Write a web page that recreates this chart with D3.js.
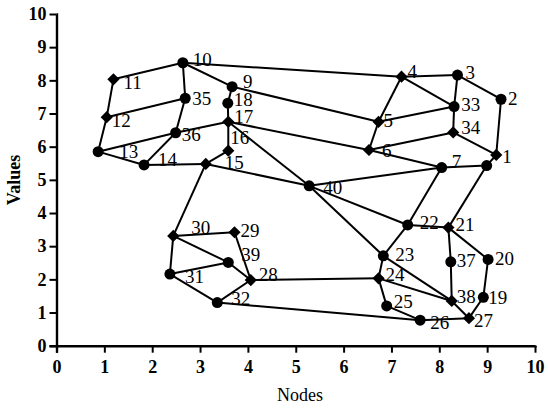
<!DOCTYPE html>
<html>
<head>
<meta charset="utf-8">
<script src="https://cdn.jsdelivr.net/npm/d3@7"></script>
<style>
	body { margin: 0; background: white; }
	svg { font-family: "Liberation Serif", "Times New Roman", serif; }
</style>
</head>
<body>
<div id="chart"></div>
<script>
// node coordinates, indexed by node number - 1
const nodeX = [9.19, 9.29, 8.38, 7.21, 6.73, 6.53, 8.05, 8.99, 3.67, 2.64,
	1.19, 1.05, 0.87, 1.83, 3.12, 3.59, 3.59, 3.58, 8.92, 9.02,
	8.19, 7.34, 6.83, 6.73, 6.90, 7.60, 8.62, 4.06, 3.72, 2.44,
	2.37, 3.36, 8.31, 8.29, 2.69, 2.49, 8.24, 8.26, 3.59, 5.28];
const nodeY = [5.75, 7.43, 8.16, 8.11, 6.75, 5.90, 5.37, 5.43, 7.81, 8.53,
	8.03, 6.89, 5.85, 5.45, 5.48, 5.88, 6.75, 7.31, 1.46, 2.60,
	3.56, 3.64, 2.71, 2.03, 1.20, 0.77, 0.83, 1.98, 3.42, 3.31,
	2.16, 1.30, 7.21, 6.43, 7.46, 6.42, 2.53, 1.35, 2.51, 4.82];
const diamondNodes = [1, 4, 5, 6, 11, 12, 15, 16, 17, 21, 24, 27, 28, 29, 30, 34, 38];
const hiddenLabels = [8];
const edges = [
	[10, 11], [10, 35], [10, 9], [10, 4], [4, 3], [9, 18], [18, 17], [17, 16], [16, 15],
	[9, 5], [17, 6], [17, 40], [15, 40], [15, 30], [15, 14], [14, 13], [14, 36], [13, 12],
	[12, 11], [12, 35], [13, 36], [36, 17], [36, 35],
	[4, 5], [4, 33], [3, 33], [3, 2], [2, 1], [33, 34], [33, 5], [34, 6], [34, 1], [5, 6],
	[6, 7], [7, 40], [7, 8], [8, 1], [8, 21], [7, 22],
	[40, 22], [40, 23], [22, 21], [22, 23], [21, 37], [21, 20], [20, 19], [19, 27],
	[23, 38], [38, 27], [37, 38], [24, 38], [24, 28], [23, 24], [24, 25], [25, 26],
	[26, 27], [26, 32],
	[30, 29], [30, 31], [30, 39], [39, 28], [29, 28], [28, 32], [31, 32], [31, 39]];
const ticks = [0, 1, 2, 3, 4, 5, 6, 7, 8, 9, 10];

// label nudges in pixels (dx, dy from node centre)
const nudge = {1: [6, 2], 2: [7, 0], 3: [8, -2], 4: [6, -5], 5: [5, -1], 6: [13, 1], 7: [10, -6],
	9: [11, -5], 10: [10, -3], 11: [10, 4], 12: [5, 4], 13: [21, 0], 14: [14, -5], 15: [19, -1],
	16: [2, -13], 17: [6, -5], 18: [6, -3], 19: [5, 1], 20: [7, 0], 21: [7, -3], 22: [12, -2],
	23: [12, -1], 24: [7, -3], 25: [7, -4], 26: [10, 3], 27: [5, 3], 28: [8, -5], 29: [6, -1],
	30: [18, -8], 31: [15, 3], 32: [14, -4], 33: [7, -2], 34: [8, -4], 35: [7, 1], 36: [6, 2],
	37: [6, -1], 38: [5, -4], 39: [13, -7], 40: [14, 2]};

const width = 548, height = 408;
const svg = d3.select("#chart").append("svg")
	.attr("width", width)
	.attr("height", height);

const x = d3.scaleLinear([0, 10], [56.5, 535]);
const y = d3.scaleLinear([0, 10], [345.7, 14]);

const nodes = nodeX.map((v, i) => ({id: i + 1, x: v, y: nodeY[i]}));
const byId = new Map(nodes.map(n => [n.id, n]));

// axes
svg.append("g")
	.attr("transform", `translate(0,${y(0)})`)
	.call(d3.axisBottom(x).tickValues(ticks).tickSize(7).tickPadding(8).tickFormat(d3.format("d")))
	.call(g => g.selectAll(".tick line").attr("stroke-width", 2))
	.call(g => g.selectAll("text").attr("font-size", 18).attr("font-weight", "bold")
		.attr("font-family", "Liberation Serif").attr("fill", "black"));
svg.append("g")
	.attr("transform", `translate(${x(0)},0)`)
	.call(d3.axisLeft(y).tickValues(ticks).tickSize(7).tickPadding(3).tickFormat(d3.format("d")))
	.call(g => g.selectAll(".tick line").attr("stroke-width", 2))
	.call(g => g.selectAll("text").attr("font-size", 18).attr("font-weight", "bold")
		.attr("font-family", "Liberation Serif").attr("fill", "black"));
svg.selectAll(".domain")
	.attr("stroke-width", 2.4)
	.attr("d", function() { return d3.select(this).attr("d").replace(/[VH]-?7/g, m => m[0] + "0"); });

svg.append("text")
	.attr("x", 300).attr("y", 401)
	.attr("text-anchor", "middle")
	.attr("font-size", 18)
	.text("Nodes");
svg.append("text")
	.attr("transform", `translate(20,180) rotate(-90)`)
	.attr("text-anchor", "middle")
	.attr("font-size", 18)
	.attr("font-weight", "bold")
	.text("Values");

// edges
svg.append("g")
	.attr("stroke", "black")
	.attr("stroke-width", 2)
	.selectAll("line")
	.data(edges)
	.join("line")
	.attr("x1", d => x(byId.get(d[0]).x))
	.attr("y1", d => y(byId.get(d[0]).y))
	.attr("x2", d => x(byId.get(d[1]).x))
	.attr("y2", d => y(byId.get(d[1]).y));

// nodes
svg.append("g")
	.selectAll("path")
	.data(nodes)
	.join("path")
	.attr("transform", d => `translate(${x(d.x)},${y(d.y)})`)
	.attr("fill", "black")
	.attr("d", d => diamondNodes.includes(d.id)
		? d3.symbol(d3.symbolDiamond2, 95)()
		: d3.symbol(d3.symbolCircle, 95)());

// labels
svg.append("g")
	.attr("font-size", 19)
	.selectAll("text")
	.data(nodes.filter(n => !hiddenLabels.includes(n.id)))
	.join("text")
	.attr("x", d => x(d.x) + (nudge[d.id] || [8, 0])[0])
	.attr("y", d => y(d.y) + (nudge[d.id] || [8, 0])[1] + 6)
	.text(d => d.id);
</script>
</body>
</html>
